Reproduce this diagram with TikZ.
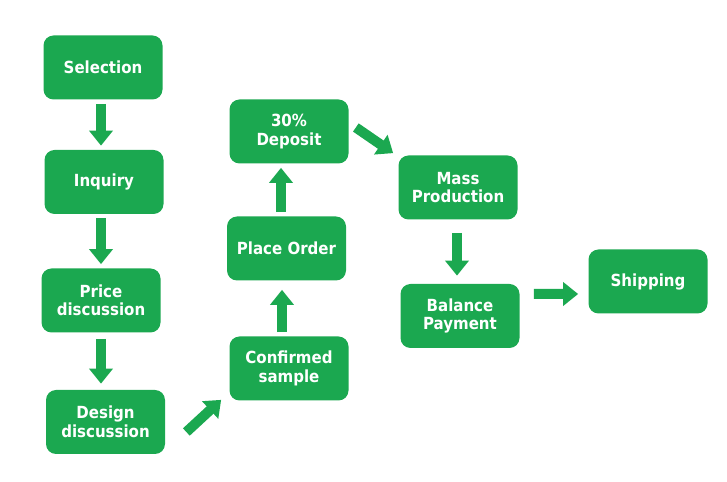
\documentclass[tikz,border=0pt]{standalone}
\usepackage{fontspec}
\setmainfont{DejaVu Sans Condensed}
\usetikzlibrary{arrows.meta}
\definecolor{stepgreen}{RGB}{27,168,80}
\tikzset{
    stage/.style={draw=none,fill=stepgreen,rounded corners=0.2cm,minimum width=2.38cm,minimum height=1.28cm,
        align=center,text=white,font=\bfseries\fontsize{9.5}{10.5}\selectfont,inner sep=1pt},
    flow/.style={stepgreen,line width=0.2cm,-{Triangle[width=0.46cm,length=0.3cm]}}
}
\begin{document}
\begin{tikzpicture}
        \useasboundingbox (0,0) rectangle (14.54,9.64);
        \node[stage] (selection) at (2.06,8.29) {Selection};
        \node[stage] (inquiry) at (2.08,6.00) {Inquiry};
        \node[stage] (price) at (2.02,3.63) {Price\\discussion};
        \node[stage] (design) at (2.11,1.20) {Design\\discussion};
        \node[stage] (confirmed) at (5.78,2.27) {Confirmed\\sample};
        \node[stage] (place) at (5.73,4.67) {Place Order};
        \node[stage] (deposit) at (5.78,7.01) {30\%\\Deposit};
        \node[stage] (mass) at (9.16,5.89) {Mass\\Production};
        \node[stage] (balance) at (9.20,3.32) {Balance\\Payment};
        \node[stage] (shipping) at (12.96,4.01) {Shipping};
        \draw[flow,shorten <=0.08cm,shorten >=0.08cm] ([xshift=-0.04cm]selection.south) -- ([xshift=-0.04cm]selection.south |- inquiry.north);
        \draw[flow,shorten <=0.08cm,shorten >=0.08cm] ([xshift=-0.06cm]inquiry.south) -- ([xshift=-0.06cm]inquiry.south |- price.north);
        \draw[flow,shorten <=0.12cm,shorten >=0.12cm] (price.south) -- (price.south |- design.north);
        \draw[flow] ([xshift=0.42cm,yshift=-0.2cm]design.east) -- ([xshift=-0.16cm,yshift=0.02cm]confirmed.south west);
        \draw[flow,shorten <=0.08cm,shorten >=0.18cm] ([xshift=-0.14cm]confirmed.north) -- ([xshift=-0.14cm]confirmed.north |- place.south);
        \draw[flow,shorten <=0.08cm,shorten >=0.08cm] ([xshift=-0.11cm]place.north) -- ([xshift=-0.11cm]place.north |- deposit.south);
        \draw[flow] ([xshift=0.14cm,yshift=0.08cm]deposit.east) -- ([xshift=-0.1cm,yshift=0.04cm]mass.north west);
        \draw[flow,shorten <=0.26cm,shorten >=0.16cm] ([xshift=-0.02cm]mass.south) -- ([xshift=-0.02cm]mass.south |- balance.north);
        \draw[flow] ([xshift=0.28cm,yshift=0.44cm]balance.east) -- ([xshift=-0.2cm,yshift=-0.25cm]shipping.west);
\end{tikzpicture}
\end{document}
